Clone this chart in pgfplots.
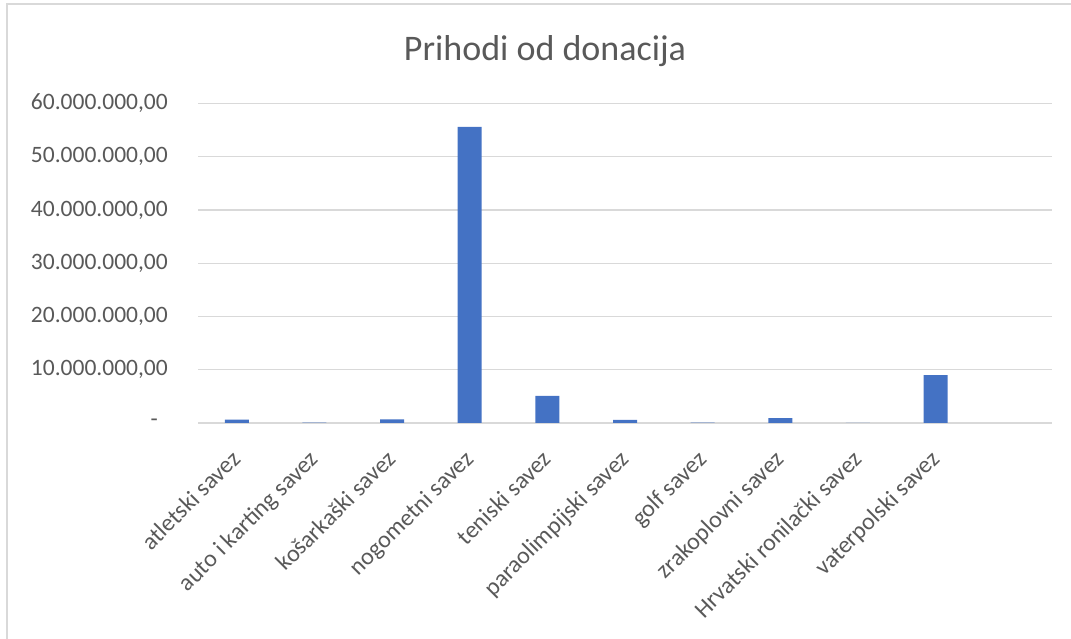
\documentclass[border=0pt]{standalone}
\usepackage{pgfplots}
\pgfplotsset{compat=1.18}
\usepackage{fontspec}
\setmainfont{Carlito}
\definecolor{barblue}{HTML}{4472C4}
\definecolor{txtgray}{HTML}{595959}
\definecolor{gridgray}{HTML}{D9D9D9}
\begin{document}
\begin{tikzpicture}
\begin{axis}[
  at={(198bp,216bp)}, anchor=south west,
  scale only axis, width=854bp, height=319.5bp,
  xmin=-0.5, xmax=10.5, ymin=0, ymax=60000000,
  axis line style={draw=none},
  major tick length=0pt,
  ymajorgrids, major grid style={gridgray, line width=1.2bp},
  xtick={0,...,9},
  xticklabels={atletski savez, auto i karting savez, košarkaški savez, nogometni savez, teniski savez, paraolimpijski savez, golf savez, zrakoplovni savez, Hrvatski ronilački savez, vaterpolski savez},
  ytick={0,10000000,20000000,30000000,40000000,50000000,60000000},
  yticklabels={-\hspace*{10bp}\rule{0pt}{0pt}, 10.000.000{,}00, 20.000.000{,}00, 30.000.000{,}00, 40.000.000{,}00, 50.000.000{,}00, 60.000.000{,}00},
  yticklabel style={font=\fontsize{23.5bp}{28bp}\selectfont, text=txtgray, inner sep=0pt, anchor=east, xshift=-30bp},
  xticklabel style={font=\fontsize{24bp}{28bp}\selectfont, text=txtgray, rotate=45, anchor=north east, inner sep=0pt, xshift=-22.7bp, yshift=-13.3bp},
  scaled y ticks=false,
  clip=false,
]
\addplot[ybar, bar width=24bp, fill=barblue, draw=none] coordinates {
  (0,650000) (1,50000) (2,700000) (3,55600000) (4,5100000) (5,600000) (6,50000) (7,900000) (8,0) (9,9000000)
};
\end{axis}
\node[font=\fontsize{36bp}{42bp}\selectfont, text=txtgray] at (545bp,588bp) {Prihodi od donacija};
\draw[gridgray, line width=1.5bp] (7bp,0bp) -- (7bp,635bp) -- (1071bp,635bp);
\pgfresetboundingbox
\path[use as bounding box] (0,0) rectangle (1071bp,639bp);
\end{tikzpicture}
\end{document}
